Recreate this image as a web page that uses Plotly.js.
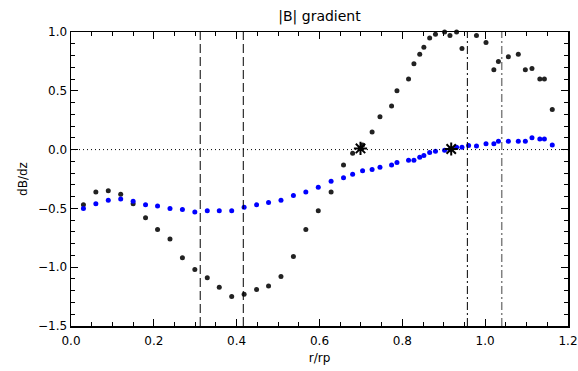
<!DOCTYPE html>
<html>
<head>
<meta charset="utf-8">
<script src="https://cdn.plot.ly/plotly-3.0.1.min.js"></script>
<style>html,body{margin:0;padding:0;background:#fff;}#chart{width:578px;height:371px;}</style>
</head>
<body>
<div id="chart"></div>
<script>
// r/rp positions (shared by both series)
const rVals = [0.030,0.060,0.090,0.120,0.150,0.180,0.209,0.239,0.269,0.299,
               0.329,0.358,0.388,0.418,0.448,0.477,0.507,0.537,0.567,0.597,
               0.628,0.658,0.680,0.704,0.727,0.746,0.774,0.787,0.815,0.828,
               0.842,0.852,0.866,0.880,0.902,0.915,0.931,0.944,0.960,0.979,
               1.002,1.021,1.032,1.056,1.080,1.097,1.113,1.132,1.143,1.162];
// black series dB/dz
const blackVals = [-0.47,-0.36,-0.35,-0.38,-0.46,-0.58,-0.68,-0.76,-0.92,-1.02,
                   -1.09,-1.17,-1.25,-1.23,-1.19,-1.16,-1.08,-0.91,-0.68,-0.52,
                   -0.36,-0.13,-0.03,0.04,0.15,0.28,0.37,0.50,0.60,0.73,
                   0.81,0.87,0.95,0.98,1.00,0.97,1.00,0.86,1.01,0.97,
                   0.91,0.68,0.75,0.79,0.81,0.68,0.69,0.60,0.60,0.34];
// blue series dB/dz
const blueVals = [-0.50,-0.46,-0.43,-0.42,-0.44,-0.47,-0.48,-0.50,-0.51,-0.53,
                  -0.52,-0.52,-0.52,-0.49,-0.47,-0.45,-0.43,-0.39,-0.36,-0.32,
                  -0.27,-0.24,-0.21,-0.18,-0.17,-0.15,-0.13,-0.11,-0.09,-0.09,
                  -0.065,-0.05,-0.025,-0.013,-0.006,0.00,0.02,0.02,0.035,0.03,
                  0.05,0.05,0.07,0.07,0.07,0.07,0.10,0.09,0.09,0.04];
// zero-crossing markers
const starX = [0.699, 0.918];
const starY = [0.01, 0.005];
// vertical reference lines
const dashedLinesX = [0.312, 0.416];
const dashDotLineX = [0.957];
const grayDashDotLineX = [1.040];
const zeroLineY = [0];

const shapes = [];
dashedLinesX.forEach(x => shapes.push({type:'line', xref:'x', yref:'paper', x0:x, x1:x, y0:0, y1:1,
  line:{color:'#000', width:1, dash:'9px,4px'}}));
dashDotLineX.forEach(x => shapes.push({type:'line', xref:'x', yref:'paper', x0:x, x1:x, y0:0, y1:1,
  line:{color:'#000', width:1, dash:'8px,3px,2px,3px'}}));
grayDashDotLineX.forEach(x => shapes.push({type:'line', xref:'x', yref:'paper', x0:x, x1:x, y0:0, y1:1,
  line:{color:'#808080', width:1.5, dash:'8px,3px,2px,3px'}}));
zeroLineY.forEach(y => shapes.push({type:'line', xref:'paper', yref:'y', x0:0, x1:1, y0:y, y1:y,
  line:{color:'#000', width:1, dash:'1px,3px'}}));

const traces = [
  {x: rVals, y: blackVals, mode:'markers', type:'scatter', cliponaxis:false,
   marker:{color:'#222222', size:5}},
  {x: rVals, y: blueVals, mode:'markers', type:'scatter', cliponaxis:false,
   marker:{color:'#0000ff', size:5}},
  {x: starX, y: starY, mode:'markers', type:'scatter', cliponaxis:false,
   marker:{symbol:'asterisk-open', color:'#000', size:11, line:{color:'#000', width:2}}}
];

const axisCommon = {
  showgrid:false, zeroline:false, showline:true, linecolor:'#000', linewidth:1.5,
  mirror:'ticks', ticks:'inside', ticklen:7, tickcolor:'#000', tickwidth:1,
  tickfont:{family:'DejaVu Sans', size:12, color:'#000'}
};

const layout = {
  width:578, height:371,
  margin:{l:71, r:10, t:32, b:45},
  paper_bgcolor:'#fff', plot_bgcolor:'#fff',
  showlegend:false,
  font:{family:'DejaVu Sans', color:'#000'},
  title:{text:'|B| gradient', x:0.5, xref:'paper', y:0.97, yref:'container', yanchor:'top',
         font:{family:'DejaVu Sans', size:14, color:'#000'}},
  xaxis: Object.assign({}, axisCommon, {
    range:[0, 1.2], dtick:0.2, tick0:0, tickformat:'.1f', ticklabelstandoff:3,
    minor:{dtick:0.05, ticklen:4, tickcolor:'#000', ticks:'inside'},
    title:{text:'r/rp', font:{family:'DejaVu Sans', size:12, color:'#000'}, standoff:6}
  }),
  yaxis: Object.assign({}, axisCommon, {
    range:[-1.5, 1.0], dtick:0.5, tick0:0, tickformat:'.1f',
    minor:{dtick:0.1, ticklen:4, tickcolor:'#000', ticks:'inside'},
    title:{text:'dB/dz', font:{family:'DejaVu Sans', size:12, color:'#000'}, standoff:8}
  }),
  shapes: shapes
};

Plotly.newPlot('chart', traces, layout, {displayModeBar:false, staticPlot:true});
</script>
</body>
</html>
